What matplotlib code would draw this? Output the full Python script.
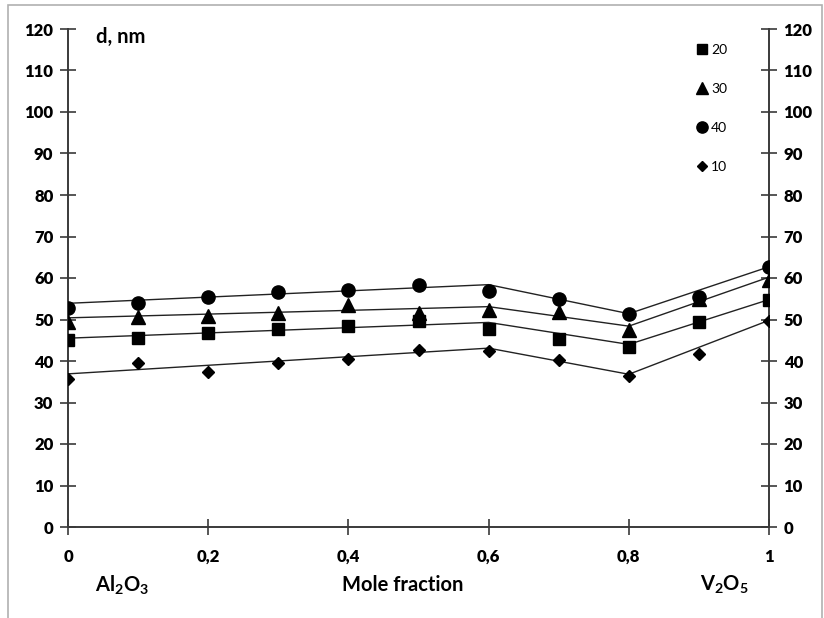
import matplotlib
matplotlib.use('Agg')
import matplotlib.pyplot as plt
from matplotlib.lines import Line2D
from matplotlib.patches import Rectangle
from matplotlib.ticker import FuncFormatter, MultipleLocator

plt.rcParams['font.family'] = ['Lato', 'DejaVu Sans']
plt.rcParams['mathtext.fontset'] = 'custom'
plt.rcParams['mathtext.rm'] = 'Lato'
plt.rcParams['mathtext.bf'] = 'Lato:bold'

# mole fraction of V2O5
x = [0, 0.1, 0.2, 0.3, 0.4, 0.5, 0.6, 0.7, 0.8, 0.9, 1.0]

# measured particle size d (nm) per series
d20 = [45.1, 45.5, 46.7, 47.6, 48.5, 49.7, 47.6, 45.3, 43.4, 49.5, 54.6]
d30 = [49.5, 50.5, 50.8, 51.6, 53.6, 51.5, 52.3, 51.9, 47.5, 54.9, 59.6]
d40 = [52.8, 53.9, 55.5, 56.7, 57.1, 58.3, 56.9, 54.9, 51.3, 55.4, 62.7]
d10 = [35.7, 39.6, 37.4, 39.6, 40.5, 42.7, 42.5, 40.2, 36.4, 41.6, 49.7]

# piecewise trend lines
fit_x = [0, 0.6, 0.8, 1.0]
fit20 = [45.5, 49.3, 44.0, 54.8]
fit30 = [50.4, 53.1, 48.4, 60.2]
fit40 = [53.9, 58.4, 51.4, 62.7]
fit10 = [36.9, 43.1, 36.8, 49.8]

series = [
    ('20', d20, fit20, 's', 9.0),
    ('30', d30, fit30, '^', 9.5),
    ('40', d40, fit40, 'o', 9.5),
    ('10', d10, fit10, 'D', 6.5),
]

fig = plt.figure(figsize=(8.24, 6.18), dpi=100)
ax = fig.add_axes([68 / 824, 1 - 527 / 618, 701 / 824, 498 / 618])

fig.patches.append(Rectangle((8 / 824, -0.01), 814 / 824, 1.0 - 5 / 618 + 0.01,
                             transform=fig.transFigure, fill=False,
                             edgecolor='#b0b0b0', linewidth=1.2))

for name, vals, fit, mk, ms in series:
    ax.plot(fit_x, fit, color='#222222', linewidth=1.0, zorder=2)
    ax.plot(x, vals, linestyle='none', marker=mk, markersize=ms,
            color='black', zorder=3)

ax.set_xlim(0, 1)
ax.set_ylim(0, 120)
ax.xaxis.set_major_locator(MultipleLocator(0.2))
ax.yaxis.set_major_locator(MultipleLocator(10))
ax.xaxis.set_major_formatter(FuncFormatter(
    lambda v, p: ('%g' % round(v, 1)).replace('.', ',')))

ax.spines['top'].set_visible(False)
for s in ('left', 'right', 'bottom'):
    ax.spines[s].set_color('#3a3a3a')
    ax.spines[s].set_linewidth(1.4)

ax.tick_params(axis='both', direction='inout', length=11, width=1.2,
               color='#3a3a3a', labelsize=12, labelcolor='black')
ax.tick_params(axis='y', left=True, right=True, labelleft=True,
               labelright=True, pad=5)
ax.tick_params(axis='x', pad=10)
for lab in ax.get_xticklabels() + ax.get_yticklabels():
    lab.set_fontweight('heavy')
for t in ax.yaxis.get_major_ticks():
    t.label2.set_fontweight('heavy')

ax.text(0.04, 118, 'd, nm', fontsize=14.5, fontweight='bold',
        va='center', ha='left')

fig.text(95 / 824, 1 - 585 / 618, r'Al$_\mathbf{2}$O$_\mathbf{3}$',
         fontsize=14.5, fontweight='bold', va='center', ha='left')
fig.text(403 / 824, 1 - 585 / 618, 'Mole fraction',
         fontsize=14.5, fontweight='bold', va='center', ha='center')
fig.text(700 / 824, 1 - 585 / 618, r'V$_\mathbf{2}$O$_\mathbf{5}$',
         fontsize=14.5, fontweight='bold', va='center', ha='left')

handles = [Line2D([], [], linestyle='none', marker=mk, color='black',
                  markersize=ms * 0.85) for _, _, _, mk, ms in series]
labels = [name for name, _, _, _, _ in series]
ax.legend(handles, labels, loc='upper left', bbox_to_anchor=(0.882, 0.99),
          frameon=False, fontsize=10, handlelength=0.8, handletextpad=0.3,
          labelspacing=1.95, borderpad=0.2)

fig.savefig('out.png', dpi=100)
